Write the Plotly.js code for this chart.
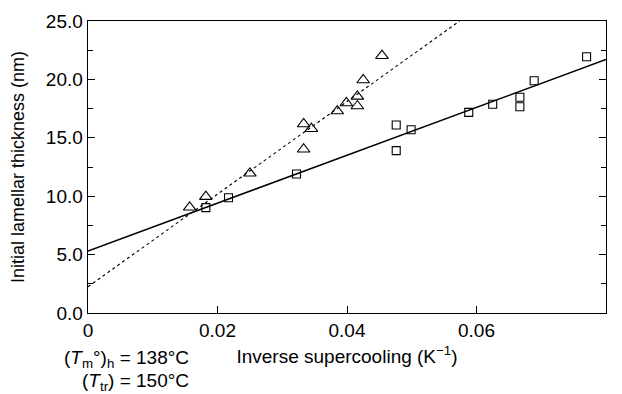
<!DOCTYPE html>
<html>
<head>
<meta charset="utf-8">
<script src="https://cdn.plot.ly/plotly-3.0.1.min.js"></script>
<style>html,body{margin:0;padding:0;background:#fff;}#chart{width:622px;height:394px;}</style>
</head>
<body>
<div id="chart"></div>
<script>
// Triangles (dotted fit)
const triX = [0.0157, 0.0182, 0.0250, 0.0333, 0.0333, 0.0345, 0.0385, 0.0399, 0.0416, 0.0416, 0.0425, 0.0454];
const triY = [9.05, 9.96, 11.96, 16.18, 14.02, 15.78, 17.29, 17.98, 18.55, 17.72, 19.95, 22.03];
// Squares (solid fit)
const sqX = [0.0182, 0.0217, 0.0322, 0.0476, 0.0476, 0.0499, 0.0588, 0.0625, 0.0667, 0.0667, 0.0689, 0.0770];
const sqY = [9.02, 9.87, 11.90, 16.10, 13.90, 15.69, 17.18, 17.87, 18.47, 17.66, 19.89, 21.94];
// Fit lines (end points)
const solidFitX = [0, 0.08];
const solidFitY = [5.31, 21.7];
const dottedFitX = [0, 0.0574];
const dottedFitY = [2.25, 25.0];
// Tick labels
const xTickVals = [0, 0.02, 0.04, 0.06, 0.08];
const xTickText = ['0', '0.02', '0.04', '0.06', '0.08'];
const yTickVals = [0, 5, 10, 15, 20, 25];
const yTickText = ['0.0', '5.0', '10.0', '15.0', '20.0', '25.0'];

const FONT = 'Liberation Sans, Arial, Helvetica, sans-serif';

const traces = [
  {x: solidFitX, y: solidFitY, mode: 'lines', line: {color: '#000', width: 1.5, dash: 'solid'}, hoverinfo: 'skip', showlegend: false},
  {x: dottedFitX, y: dottedFitY, mode: 'lines', line: {color: '#000', width: 1.1, dash: 'dot'}, hoverinfo: 'skip', showlegend: false},
  {x: triX, y: triY, mode: 'markers', marker: {symbol: 'triangle-up-open', size: 11, color: '#000', line: {width: 1.1, color: '#000'}}, showlegend: false},
  {x: sqX, y: sqY, mode: 'markers', marker: {symbol: 'square-open', size: 8, color: '#000', line: {width: 1.1, color: '#000'}}, showlegend: false}
];

const layout = {
  width: 622, height: 394,
  margin: {l: 88, r: 16, t: 21, b: 81},
  paper_bgcolor: '#fff', plot_bgcolor: '#fff',
  font: {family: FONT, size: 19, color: '#000'},
  showlegend: false,
  xaxis: {
    range: [0, 0.08], tickvals: xTickVals, ticktext: xTickText,
    ticks: 'inside', ticklen: 7, tickwidth: 1, tickcolor: '#000',
    showline: true, linecolor: '#000', linewidth: 1.4, mirror: true,
    showgrid: false, zeroline: false,
    tickfont: {family: FONT, size: 19, color: '#000'},
    title: {text: 'Inverse supercooling (K<sup>\u22121</sup>)', font: {family: FONT, size: 19, color: '#000'}, standoff: 9}
  },
  yaxis: {
    range: [0, 25], tickvals: yTickVals, ticktext: yTickText,
    ticks: 'inside', ticklen: 7, tickwidth: 1, tickcolor: '#000',
    minor: {dtick: 2.5, ticks: 'inside', ticklen: 5, tickcolor: '#000', showgrid: false},
    showline: true, linecolor: '#000', linewidth: 1.4, mirror: 'ticks',
    showgrid: false, zeroline: false,
    tickfont: {family: FONT, size: 19, color: '#000'},
    title: {text: 'Initial lamellar thickness (nm)', font: {family: FONT, size: 18, color: '#000'}, standoff: 16}
  },
  annotations: [
    {xref: 'paper', yref: 'paper', x: 0.198, y: -0.1575, xanchor: 'right', yanchor: 'middle', showarrow: false,
     text: '(<i>T</i><sub>m</sub>\u00b0)<sub>h</sub> = 138\u00b0C', font: {family: FONT, size: 19, color: '#000'}},
    {xref: 'paper', yref: 'paper', x: 0.198, y: -0.235, xanchor: 'right', yanchor: 'middle', showarrow: false,
     text: '(<i>T</i><sub>tr</sub>) = 150\u00b0C', font: {family: FONT, size: 19, color: '#000'}}
  ]
};

Plotly.newPlot('chart', traces, layout, {displayModeBar: false, staticPlot: true});
</script>
</body>
</html>
